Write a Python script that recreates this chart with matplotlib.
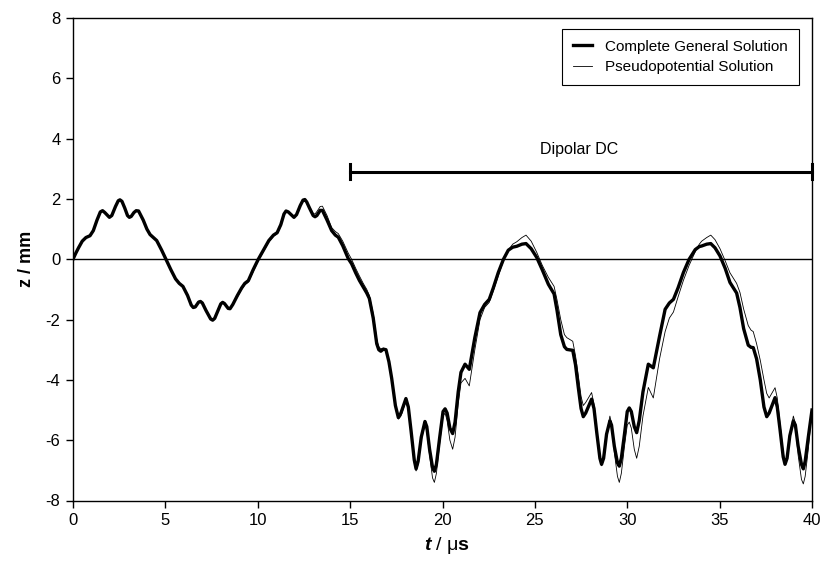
import matplotlib
matplotlib.use('Agg')
import matplotlib.pyplot as plt
import numpy as np

plt.rcParams['font.family'] = ['Liberation Sans', 'DejaVu Sans']
plt.rcParams['axes.unicode_minus'] = False

# time axis (us) and the two solutions (mm)
t = [0, 0.15, 0.3, 0.5, 0.7, 0.92, 1.1, 1.3, 1.48, 1.6,
     1.72, 1.97, 2.1, 2.3, 2.45, 2.54, 2.65, 2.8, 2.95, 3.05,
     3.15, 3.3, 3.42, 3.55, 3.8, 4.0, 4.17, 4.35, 4.53, 4.8,
     5.03, 5.3, 5.55, 5.75, 5.95, 6.2, 6.4, 6.51, 6.62, 6.8,
     6.9, 7.0, 7.2, 7.45, 7.56, 7.67, 7.85, 8.0, 8.1, 8.2,
     8.4, 8.5, 8.65, 8.9, 9.13, 9.3, 9.49, 9.75, 10.03, 10.35,
     10.6, 10.85, 11.05, 11.25, 11.42, 11.53, 11.65, 11.96, 12.1, 12.3,
     12.45, 12.55, 12.65, 12.8, 13.0, 13.1, 13.2, 13.38, 13.5, 13.75,
     14.0, 14.2, 14.36, 14.6, 14.9,
     15.08, 15.3, 15.5, 15.71, 15.9, 16.04, 16.25, 16.44, 16.55, 16.66,
     16.8, 16.94, 17.1, 17.25, 17.45, 17.61, 17.75, 18.02, 18.15, 18.3,
     18.47, 18.57, 18.68, 18.85, 19.05, 19.15, 19.3, 19.46, 19.56, 19.67,
     19.85, 20.03, 20.14, 20.25, 20.4, 20.55, 20.68, 20.85, 21.0, 21.22,
     21.45, 21.75, 22.03, 22.28, 22.53, 22.75, 23.02, 23.3, 23.56, 23.8,
     24.02, 24.3, 24.52, 24.8, 25.1, 25.4, 25.73, 26.04, 26.2, 26.4,
     26.6, 26.73, 27.05, 27.2, 27.35, 27.5, 27.62, 27.75, 28.07, 28.2,
     28.35, 28.52, 28.61, 28.72, 28.88, 29.06, 29.15, 29.3, 29.47, 29.57,
     29.68, 29.85, 30.0, 30.11, 30.22, 30.38, 30.51, 30.65, 30.85, 31.14,
     31.41, 31.75, 32.05, 32.28, 32.5, 32.75, 33.04, 33.35, 33.68, 33.9,
     34.03, 34.3, 34.52, 34.75, 35.02, 35.3, 35.56, 35.92, 36.1, 36.3,
     36.55, 36.7, 36.82, 37.0, 37.2, 37.4, 37.55, 37.68, 38.0, 38.12,
     38.27, 38.44, 38.54, 38.65, 38.8, 38.99, 39.1, 39.25, 39.43, 39.53,
     39.63, 39.8, 40.0]

z_general = [0, 0.2, 0.38, 0.6, 0.72, 0.78, 0.95, 1.3, 1.57, 1.61,
             1.55, 1.39, 1.45, 1.75, 1.94, 1.97, 1.92, 1.7, 1.45, 1.39,
             1.42, 1.55, 1.61, 1.6, 1.3, 1.0, 0.82, 0.72, 0.62, 0.3,
             0, -0.35, -0.65, -0.8, -0.9, -1.2, -1.52, -1.6, -1.58, -1.42,
             -1.4, -1.45, -1.7, -1.98, -2.02, -1.96, -1.7, -1.48, -1.43, -1.47,
             -1.63, -1.64, -1.5, -1.2, -0.95, -0.8, -0.71, -0.35, 0, 0.35,
             0.62, 0.8, 0.88, 1.15, 1.5, 1.6, 1.57, 1.39, 1.48, 1.78,
             1.96, 1.98, 1.9, 1.7, 1.45, 1.41, 1.45, 1.62, 1.62, 1.3,
             0.95, 0.8, 0.73, 0.45, 0.02,
             -0.15, -0.45, -0.7, -0.92, -1.12, -1.3, -1.95, -2.8, -3.0, -3.05,
             -2.98, -3.0, -3.4, -3.95, -4.85, -5.25, -5.1, -4.62, -4.9, -5.7,
             -6.65, -6.95, -6.7, -5.9, -5.38, -5.55, -6.3, -6.9, -7.03, -6.8,
             -5.9, -5.05, -4.96, -5.1, -5.6, -5.78, -5.4, -4.4, -3.75, -3.48,
             -3.65, -2.6, -1.77, -1.5, -1.33, -0.95, -0.44, 0.0, 0.3, 0.4,
             0.43, 0.5, 0.52, 0.35, 0.06, -0.35, -0.83, -1.15, -1.7, -2.5,
             -2.9, -2.99, -3.02, -3.5, -4.25, -4.95, -5.22, -5.1, -4.64, -4.95,
             -5.75, -6.6, -6.8, -6.6, -5.8, -5.36, -5.5, -6.2, -6.75, -6.86,
             -6.6, -5.8, -5.05, -4.93, -5.05, -5.55, -5.75, -5.35, -4.4, -3.48,
             -3.6, -2.55, -1.66, -1.45, -1.33, -0.95, -0.44, 0.0, 0.32, 0.42,
             0.44, 0.5, 0.52, 0.38, 0.11, -0.3, -0.77, -1.12, -1.6, -2.3,
             -2.85, -2.92, -2.93, -3.3, -4.0, -4.9, -5.22, -5.1, -4.59, -4.9,
             -5.65, -6.55, -6.8, -6.6, -5.85, -5.36, -5.5, -6.2, -6.8, -6.95,
             -6.7, -5.9, -5.0]

z_pseudo = [0, 0.2, 0.38, 0.6, 0.72, 0.78, 0.95, 1.3, 1.57, 1.61,
            1.55, 1.39, 1.45, 1.75, 1.94, 1.97, 1.92, 1.7, 1.45, 1.39,
            1.42, 1.55, 1.61, 1.6, 1.3, 1.0, 0.82, 0.72, 0.62, 0.3,
            0, -0.35, -0.65, -0.8, -0.9, -1.2, -1.52, -1.6, -1.58, -1.42,
            -1.4, -1.45, -1.7, -1.98, -2.02, -1.96, -1.7, -1.48, -1.43, -1.47,
            -1.61, -1.62, -1.5, -1.25, -1.0, -0.85, -0.76, -0.42, -0.05, 0.3,
            0.57, 0.76, 0.85, 1.1, 1.47, 1.58, 1.58, 1.42, 1.5, 1.8,
            1.96, 1.98, 1.92, 1.75, 1.52, 1.5, 1.58, 1.75, 1.76, 1.45,
            1.05, 0.92, 0.85, 0.6, 0.2,
            0.0, -0.3, -0.55, -0.8, -1.0, -1.2, -1.8, -2.65, -2.9, -2.97,
            -2.95, -2.98, -3.4, -3.95, -4.85, -5.3, -5.2, -4.7, -5.0, -5.8,
            -6.75, -7.02, -6.8, -6.0, -5.5, -5.7, -6.5, -7.25, -7.4, -7.1,
            -6.1, -5.2, -5.1, -5.35, -6.0, -6.3, -5.9, -4.8, -4.1, -3.95,
            -4.2, -3.0, -2.0, -1.6, -1.43, -1.05, -0.55, -0.05, 0.3, 0.5,
            0.58, 0.72, 0.8, 0.6, 0.23, -0.2, -0.6, -0.9, -1.35, -2.0,
            -2.5, -2.6, -2.72, -3.2, -3.85, -4.55, -4.85, -4.75, -4.42, -4.8,
            -5.65, -6.6, -6.85, -6.65, -5.8, -5.2, -5.45, -6.4, -7.2, -7.4,
            -7.1, -6.2, -5.5, -5.4, -5.6, -6.3, -6.6, -6.2, -5.2, -4.25,
            -4.6, -3.3, -2.4, -1.95, -1.75, -1.25, -0.7, -0.2, 0.25, 0.5,
            0.6, 0.72, 0.8, 0.65, 0.35, -0.05, -0.45, -0.8, -1.1, -1.65,
            -2.2, -2.35, -2.4, -2.8, -3.35, -4.0, -4.45, -4.6, -4.26, -4.6,
            -5.45, -6.4, -6.75, -6.55, -5.85, -5.2, -5.45, -6.5, -7.3, -7.45,
            -7.2, -6.3, -5.0]

dc_start, dc_end, dc_level = 15, 40, 2.9

fig = plt.figure(figsize=(8.24, 5.7), dpi=100)
ax = fig.add_axes([73 / 824, 1 - 500.5 / 570, 739 / 824, 482.5 / 570])

ax.axhline(0, color='black', lw=1.0, zorder=1)
ax.plot(t, z_general, color='black', lw=2.4, solid_joinstyle='round',
        label='Complete General Solution', zorder=3)
ax.plot(t, z_pseudo, color='black', lw=0.6, solid_joinstyle='round',
        label='Pseudopotential Solution', zorder=2)

# dipolar DC bar
ax.plot([dc_start, dc_end], [dc_level, dc_level], color='black', lw=2.2, clip_on=False)
for x0 in (dc_start, dc_end):
    ax.plot([x0, x0], [dc_level - 0.25, dc_level + 0.25], color='black', lw=2.2,
            clip_on=False)
ax.text(27.4, 3.65, 'Dipolar DC', ha='center', va='center', fontsize=11.5)

ax.set_xlim(0, 40)
ax.set_ylim(-8, 8)
ax.set_xticks(np.arange(0, 41, 5))
ax.set_yticks(np.arange(-8, 9, 2))
ax.tick_params(direction='out', length=5, width=1, labelsize=12, pad=4)
for s in ax.spines.values():
    s.set_linewidth(1.0)

ax.set_ylabel('z / mm', fontsize=13, fontweight='bold', labelpad=8)

# x label: bold italic t, regular mu, bold s
fig.text(424 / 824, 1 - 545 / 570, 't', fontsize=14, fontweight='bold', style='italic',
         ha='left', va='center')
fig.text(436 / 824, 1 - 545 / 570, '/', fontsize=14, ha='left', va='center')
fig.text(447 / 824, 1 - 545 / 570, 'μ', fontsize=14, ha='left', va='center')
fig.text(457 / 824, 1 - 545 / 570, 's', fontsize=14, fontweight='bold', ha='left', va='center')

leg = ax.legend(loc='upper right', bbox_to_anchor=(0.982, 0.977), borderaxespad=0,
                fontsize=11, handlelength=1.2, handletextpad=0.9, fancybox=False,
                edgecolor='black', framealpha=1, borderpad=0.7, labelspacing=0.4)
leg.get_frame().set_linewidth(0.8)

fig.savefig('out.png', dpi=100, facecolor='white')
